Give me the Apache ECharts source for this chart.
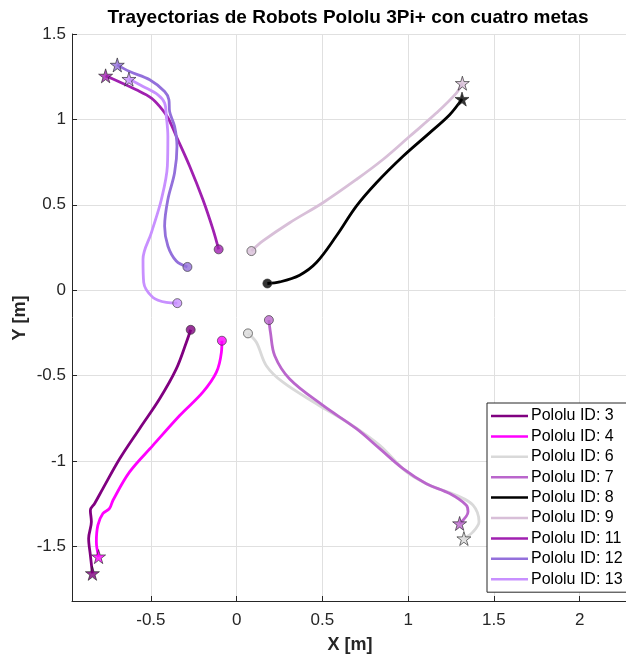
<!DOCTYPE html>
<html>
<head>
<meta charset="utf-8">
<script src="https://cdn.jsdelivr.net/npm/echarts@6/dist/echarts.min.js"></script>
<style>
  html, body { margin: 0; padding: 0; background: #fff; }
  #main { width: 626px; height: 658px; }
</style>
</head>
<body>
<div id="main"></div>
<script>
// trayectorias [x, y] en metros, de la posicion inicial (circulo) a la meta (estrella)
const traj3 = [[-0.268, -0.232], [-0.293, -0.305], [-0.352, -0.461], [-0.449, -0.636], [-0.566, -0.811],
  [-0.682, -0.987], [-0.780, -1.162], [-0.828, -1.249], [-0.853, -1.288], [-0.847, -1.356],
  [-0.863, -1.454], [-0.853, -1.551], [-0.841, -1.658]]
const traj4 = [[-0.086, -0.296], [-0.089, -0.364], [-0.118, -0.480], [-0.197, -0.597], [-0.332, -0.734],
  [-0.488, -0.909], [-0.624, -1.064], [-0.721, -1.230], [-0.741, -1.278], [-0.780, -1.308],
  [-0.809, -1.376], [-0.818, -1.473], [-0.805, -1.560]]
const traj6 = [[0.066, -0.253], [0.115, -0.305], [0.173, -0.442], [0.270, -0.539], [0.465, -0.665],
  [0.659, -0.782], [0.834, -0.909], [0.990, -1.064], [1.125, -1.142], [1.281, -1.201],
  [1.378, -1.259], [1.413, -1.356], [1.378, -1.415], [1.325, -1.454]]
const traj7 = [[0.188, -0.175], [0.197, -0.247], [0.222, -0.384], [0.309, -0.520], [0.503, -0.675],
  [0.698, -0.811], [0.834, -0.928], [0.970, -1.045], [1.106, -1.133], [1.242, -1.191],
  [1.339, -1.259], [1.349, -1.298], [1.300, -1.366]]
const traj8 = [[0.179, 0.039], [0.251, 0.048], [0.367, 0.088], [0.465, 0.162], [0.581, 0.317],
  [0.698, 0.492], [0.815, 0.629], [0.970, 0.784], [1.125, 0.921], [1.242, 1.027], [1.314, 1.119]]
const traj9 = [[0.086, 0.229], [0.153, 0.288], [0.309, 0.395], [0.503, 0.512], [0.698, 0.648],
  [0.853, 0.765], [1.009, 0.901], [1.164, 1.037], [1.281, 1.154], [1.316, 1.212]]
const traj11 = [[-0.105, 0.239], [-0.138, 0.356], [-0.197, 0.531], [-0.274, 0.726], [-0.352, 0.901],
  [-0.400, 1.008], [-0.449, 1.076], [-0.497, 1.125], [-0.585, 1.173], [-0.721, 1.236], [-0.764, 1.255]]
const traj12 = [[-0.287, 0.136], [-0.352, 0.171], [-0.401, 0.259], [-0.420, 0.375], [-0.401, 0.531],
  [-0.362, 0.687], [-0.348, 0.842], [-0.362, 0.959], [-0.391, 1.047], [-0.395, 1.115],
  [-0.420, 1.163], [-0.507, 1.232], [-0.624, 1.280], [-0.696, 1.319]]
const traj13 = [[-0.346, -0.076], [-0.410, -0.072], [-0.488, -0.043], [-0.542, 0.045], [-0.546, 0.181],
  [-0.497, 0.337], [-0.439, 0.531], [-0.404, 0.726], [-0.401, 0.901], [-0.410, 1.018],
  [-0.420, 1.096], [-0.459, 1.144], [-0.546, 1.193], [-0.628, 1.236]]

const robotIds = [3, 4, 6, 7, 8, 9, 11, 12, 13]
const trajs = [traj3, traj4, traj6, traj7, traj8, traj9, traj11, traj12, traj13]
const colors = ['#800080', '#ff00ff', '#d9d9d9', '#ba66cc', '#000000', '#d8bfd8', '#a020b0', '#9370db', '#c890ff']

const xTicks = [-0.5, 0, 0.5, 1, 1.5, 2]
const yTicks = [-1.5, -1, -0.5, 0, 0.5, 1, 1.5]

const starPath = 'path://M50,0 L61,35 L98,35 L68,57 L79,91 L50,70 L21,91 L32,57 L2,35 L39,35 Z'
const txt = '#262626'
const font = 'Liberation Sans, Arial, Helvetica, sans-serif'

const myChart = echarts.init(document.getElementById('main'))

const series = []
trajs.forEach((t, i) => {
  series.push({
    name: 'Pololu ID: ' + robotIds[i],
    type: 'line',
    data: t,
    smooth: 0.35,
    showSymbol: false,
    symbol: 'none',
    lineStyle: { color: colors[i], width: 2.8 },
    itemStyle: { color: colors[i] },
    z: 2
  })
})
// marcadores de inicio y meta
trajs.forEach((t, i) => {
  series.push({
    type: 'scatter',
    data: [t[0]],
    symbol: 'circle',
    symbolSize: 9,
    itemStyle: { color: colors[i], borderColor: '#333', borderWidth: 0.8 },
    z: 4
  })
  series.push({
    type: 'scatter',
    data: [t[t.length - 1]],
    symbol: starPath,
    symbolSize: 14,
    itemStyle: { color: colors[i], borderColor: '#222', borderWidth: 0.8 },
    z: 5
  })
})

const option = {
  animation: false,
  backgroundColor: '#fff',
  textStyle: { fontFamily: font },
  grid: { left: 72, top: 34, right: 0, bottom: 57, containLabel: false },
  xAxis: {
    type: 'value', min: -0.96, max: 2.27,
    axisLine: { show: true, onZero: false, lineStyle: { color: txt, width: 1 } },
    axisTick: { show: true, inside: true, length: 5, customValues: xTicks, lineStyle: { color: txt } },
    axisLabel: { customValues: xTicks, color: txt, fontSize: 17, margin: 11, fontFamily: font },
    splitLine: { show: true, lineStyle: { color: '#e0e0e0', width: 1 } }
  },
  yAxis: {
    type: 'value', min: -1.82, max: 1.5,
    axisLine: { show: true, onZero: false, lineStyle: { color: txt, width: 1 } },
    axisTick: { show: true, inside: true, length: 5, customValues: yTicks, lineStyle: { color: txt } },
    axisLabel: { customValues: yTicks, color: txt, fontSize: 17, margin: 6, fontFamily: font },
    splitLine: { show: true, lineStyle: { color: '#e0e0e0', width: 1 } }
  },
  legend: {
    data: robotIds.map(id => 'Pololu ID: ' + id),
    orient: 'vertical',
    left: 487, top: 403,
    icon: 'rect',
    itemWidth: 37, itemHeight: 2.5,
    itemGap: 4.4,
    backgroundColor: '#fff',
    borderColor: txt, borderWidth: 1, borderRadius: 0,
    padding: [5, 20, 5, 4],
    textStyle: { color: '#000', fontSize: 16, fontFamily: font, padding: [0, 0, 0, -2] }
  },
  graphic: [
    { type: 'text', style: { text: 'Trayectorias de Robots Pololu 3Pi+ con cuatro metas', x: 348, y: 18, align: 'center', verticalAlign: 'middle', font: 'bold 19px ' + font, fill: '#000' } },
    { type: 'text', style: { text: 'X [m]', x: 350, y: 645, align: 'center', verticalAlign: 'middle', font: 'bold 18px ' + font, fill: txt } },
    { type: 'text', x: 20, y: 318, rotation: Math.PI / 2, style: { text: 'Y [m]', x: 0, y: 0, align: 'center', verticalAlign: 'middle', font: 'bold 18px ' + font, fill: txt } }
  ],
  series: series
}
myChart.setOption(option)
</script>
</body>
</html>
